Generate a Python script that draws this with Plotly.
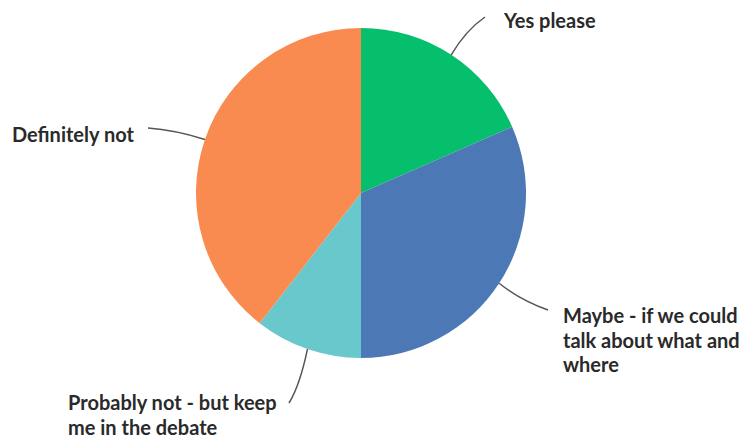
import math
import plotly.graph_objects as go

labels = ["Yes please", "Maybe - if we could talk about what and where",
          "Probably not - but keep me in the debate", "Definitely not"]
values = [7, 12, 4, 15]
colors = ["#06BF6C", "#4C79B5", "#68C8CC", "#F98A50"]
label_lines = [["Yes please"],
               ["Maybe - if we could", "talk about what and", "where"],
               ["Probably not - but keep", "me in the debate"],
               ["Definitely not"]]

W, H = 756, 439
cx, cy, R = 361, 193, 165

def px(x):
    return x / W

def py(y):
    return 1 - y / H

fig = go.Figure(go.Pie(
    labels=labels, values=values, sort=False, direction="clockwise", rotation=0,
    marker=dict(colors=colors, line=dict(width=0)),
    textinfo="none", hoverinfo="label+value", showlegend=False,
    domain=dict(x=[px(cx - R), px(cx + R)], y=[py(cy + R), py(cy - R)]),
))

# leader-line geometry (end offsets and text placement, pixels)
leader = [
    dict(end=(485, 17), ctrl=(466, 30), tx=501, ty=20),
    dict(end=(548, 310), ctrl=(520, 300), tx=561, ty=315),
    dict(end=(289, 403), ctrl=(300, 385), tx=66, ty=402),
    dict(end=(148, 128), ctrl=(175, 130), tx=10, ty=134),
]

total = sum(values)
cum = 0
shapes = []
annotations = []
for i, v in enumerate(values):
    mid = (cum + v / 2) / total * 2 * math.pi
    cum += v
    sx = cx + R * math.sin(mid)
    sy = cy - R * math.cos(mid)
    L = leader[i]
    ex, ey = L["end"]
    qx, qy = L["ctrl"]
    path = f"M {px(sx)},{py(sy)} Q {px(qx)},{py(qy)} {px(ex)},{py(ey)}"
    shapes.append(dict(type="path", xref="paper", yref="paper", path=path,
                       line=dict(color="#555555", width=1.5)))
    for j, line in enumerate(label_lines[i]):
        annotations.append(dict(
            x=px(L["tx"]), y=py(L["ty"] + j * 24.5), xref="paper", yref="paper",
            text=line, showarrow=False, xanchor="left", yanchor="middle",
            font=dict(family="Lato", size=20, color="#2a2a2a", weight="bold"),
        ))

fig.update_layout(
    width=W, height=H, margin=dict(l=0, r=0, t=0, b=0),
    paper_bgcolor="white", plot_bgcolor="white",
    shapes=shapes, annotations=annotations,
)
fig.write_html("out.html")
